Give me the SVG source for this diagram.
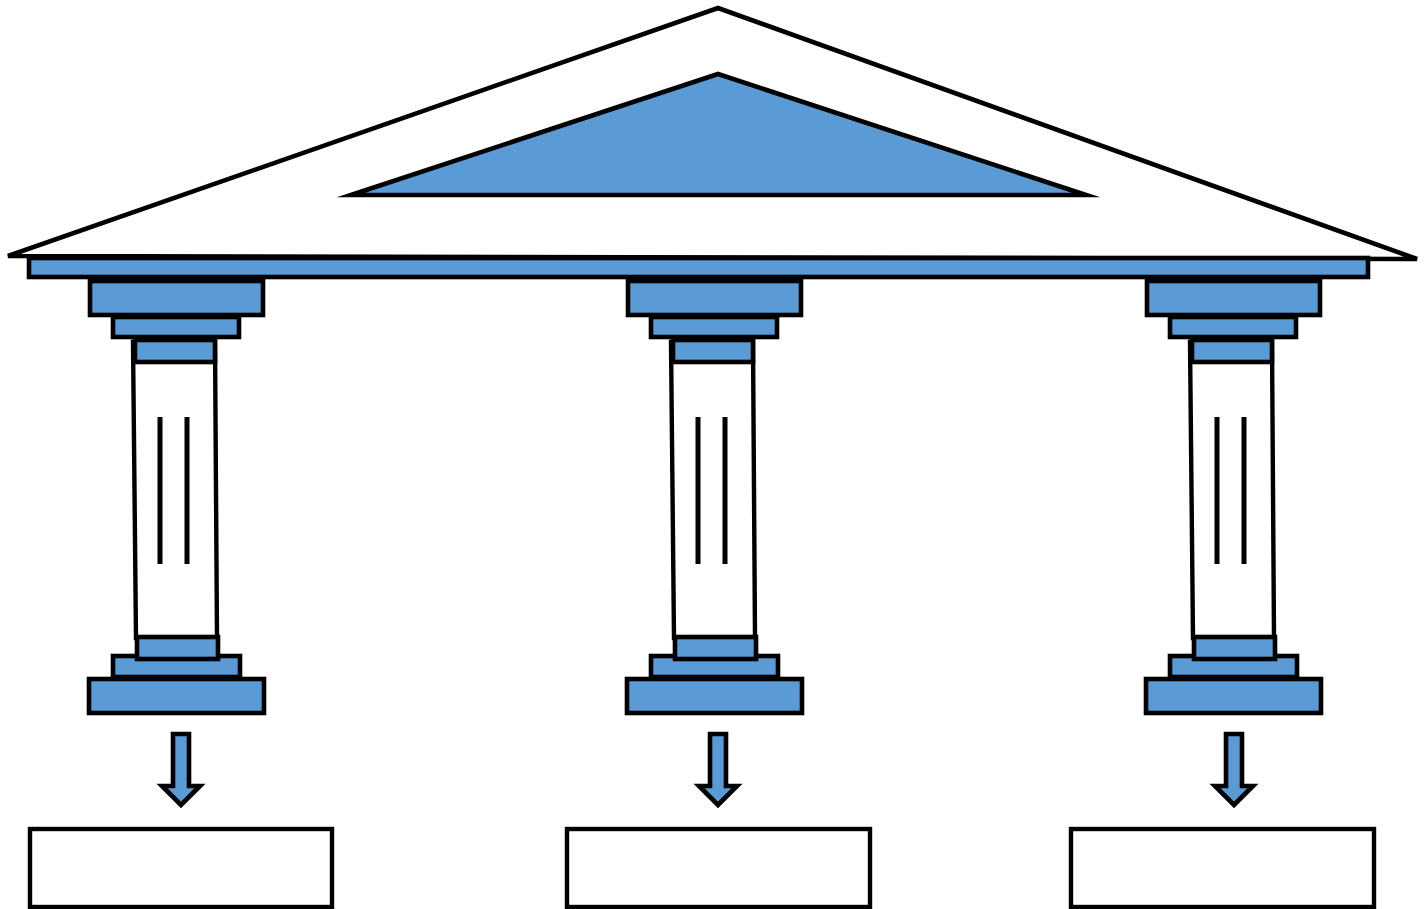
<svg xmlns="http://www.w3.org/2000/svg" width="1427" height="909" viewBox="0 0 1427 909">
  <style>
    .blue { fill: #5B9BD5; stroke: #000; stroke-width: 4.6; }
    .line { fill: none; stroke: #000; stroke-width: 5; }
    .box { fill: #fff; stroke: #000; stroke-width: 4.4; }
    .shaft { fill: #fff; stroke: #000; stroke-width: 4.4; }
  </style>
  <defs>
    <!-- one column: capital, shaft with fluting, base -->
    <g id="column">
      <polygon class="shaft" points="133,342 215,342 217,638 136,638"/>
      <rect class="blue" x="90" y="281" width="173" height="34"/>
      <rect class="blue" x="113" y="317" width="126" height="20"/>
      <rect class="blue" x="135" y="340" width="80" height="22"/>
      <line class="line" x1="160" y1="417" x2="160" y2="564"/>
      <line class="line" x1="187" y1="417" x2="187" y2="564"/>
      <rect class="blue" x="113" y="656" width="127" height="21"/>
      <rect class="blue" x="137" y="637" width="81" height="22"/>
      <rect class="blue" x="89" y="679" width="175" height="34"/>
    </g>
    <polygon id="arrow" class="blue" points="-8,734 8,734 8,786 19,786 0,805 -19,786 -8,786"/>
  </defs>

  <!-- roof -->
  <g id="roof">
    <polygon points="8,256 718,8 1417,259" fill="#fff" stroke="#000" stroke-width="4.6"/>
    <polygon points="351,195 718,74 1086,195" class="blue" stroke-miterlimit="12"/>
    <rect class="blue" x="29" y="258" width="1339" height="19"/>
  </g>

  <g id="column1"><use href="#column"/></g>
  <g id="column2"><use href="#column" x="538"/></g>
  <g id="column3"><use href="#column" x="1057"/></g>

  <g id="connectors">
    <use href="#arrow" x="181"/>
    <use href="#arrow" x="718"/>
    <use href="#arrow" x="1234"/>
  </g>

  <g id="box1"><rect class="box" x="30" y="829" width="302" height="78"/></g>
  <g id="box2"><rect class="box" x="567" y="829" width="303" height="78"/></g>
  <g id="box3"><rect class="box" x="1071" y="829" width="303" height="78"/></g>
</svg>
